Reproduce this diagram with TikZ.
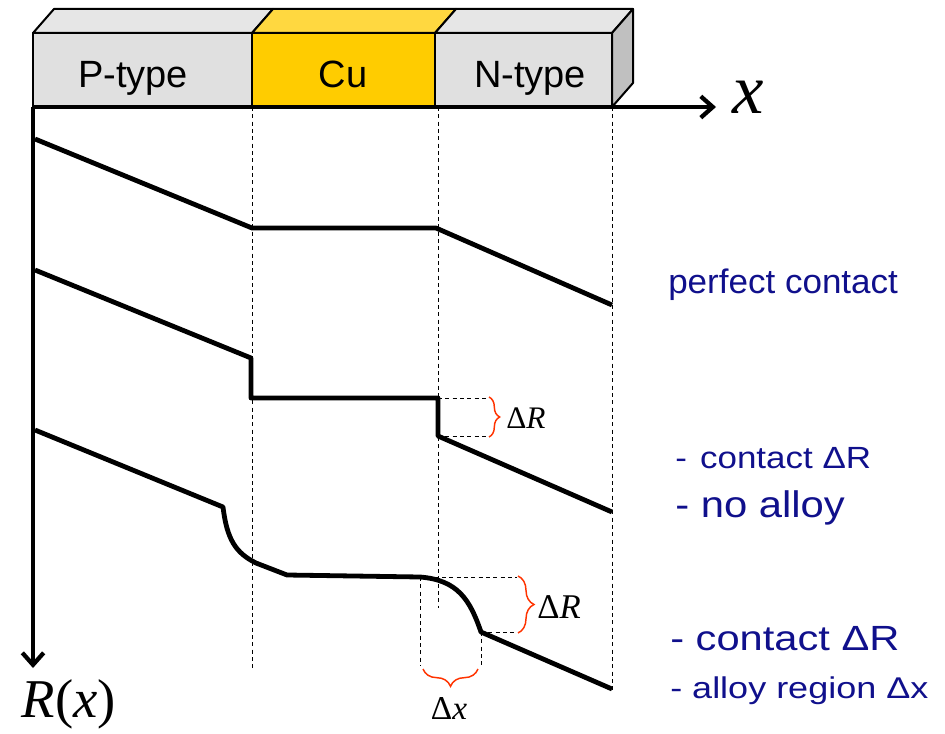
\documentclass[tikz,border=0pt]{standalone}
\usepackage{fontspec}
\setsansfont{Liberation Sans}
\newfontfamily\tnr{Liberation Serif}
\usetikzlibrary{arrows.meta,decorations.pathreplacing}
\definecolor{navy}{RGB}{16,16,140}
\definecolor{cuFront}{RGB}{255,204,0}
\definecolor{cuTop}{RGB}{255,216,64}
\definecolor{greyFront}{RGB}{224,224,224}
\definecolor{greyTop}{RGB}{230,230,230}
\definecolor{greySide}{RGB}{192,192,192}
\definecolor{braceRed}{RGB}{255,51,0}
\begin{document}
\begin{tikzpicture}[x=0.75pt,y=-0.75pt,
  face/.style={draw=black, line width=1.5pt, line join=round},
  curve/.style={line width=3.6pt, line join=round},
  guide/.style={line width=0.75pt, dash pattern=on 3pt off 2.5pt},
  axis/.style={line width=3.2pt, -{Straight Barb[length=9pt,width=16pt]}},
  rbrace/.style={draw=braceRed, line width=1.1pt, decorate, decoration={brace, amplitude=#1}},
  boxlbl/.style={font=\sffamily\fontsize{28.5pt}{30pt}\selectfont, anchor=base, inner sep=0pt},
  note/.style={text=navy, anchor=base west, inner sep=0pt},
  math/.style={inner sep=0pt}
]
\useasboundingbox (0,0) rectangle (945,734);

% 3D bar
\filldraw[face, fill=greyTop] (33,33) -- (252,33) -- (273,9) -- (54,9) -- cycle;
\filldraw[face, fill=cuTop] (252,33) -- (435,33) -- (456,9) -- (273,9) -- cycle;
\filldraw[face, fill=greyTop] (435,33) -- (612,33) -- (633,9) -- (456,9) -- cycle;
\filldraw[face, fill=greySide] (612,33) -- (633,9) -- (633,83) -- (612,107) -- cycle;
\filldraw[face, fill=greyFront] (33,33) rectangle (252,107);
\filldraw[face, fill=cuFront] (252,33) rectangle (435,107);
\filldraw[face, fill=greyFront] (435,33) rectangle (612,107);
\node[boxlbl] (pt) at (133,88) {P-type};
\node[boxlbl] (cu) at (343,88) {Cu};
\node[boxlbl] (nt) at (530,88) {N-type};

% guides
\draw[guide] (252,107) -- (252,668);
\draw[guide] (438,107) -- (438,608);
\draw[guide] (612,107) -- (612,690);

% axes
\coordinate (O) at (33,107);
\coordinate (xend) at (716,107);
\coordinate (yend) at (33,668);
\draw[axis] (O) -- (xend);
\draw[axis] (O) -- (yend);
\node[math, font=\tnr\fontsize{53pt}{53pt}\selectfont] (xl) at (748,97) {\textit{x}};
\node[math, font=\tnr\fontsize{41pt}{41pt}\selectfont] (rl) at (69,704) {\textit{R}(\textit{x})};

% curve 1: perfect contact
\draw[curve] (35,139) -- (252,228) -- (436,228) -- (612,305);

% curve 2: contact resistance, no alloy
\coordinate (a1) at (251,398);
\coordinate (a2) at (438,398);
\coordinate (b2) at (438,436);
\draw[curve] (35,270) -- (251,358) -- (a1) -- (a2) -- (b2) -- (612,512);
\draw[guide] (a2) -- (488,398);
\draw[guide] (b2) -- (488,436);
\draw[rbrace=8pt] (489,397) -- (489,437);
\node[math, font=\tnr\fontsize{23.5pt}{23.5pt}\selectfont, anchor=base west] (dr1) at (506,428) {Δ\textit{R}};

% curve 3: contact resistance with alloy region
\coordinate (c1) at (420,577);
\coordinate (c2) at (481,632);
\draw[curve] (35,430) -- (223,507) .. controls (227,540) and (236,553) .. (256,563) -- (287,575) -- (c1)
  .. controls (458,580) and (470,600) .. (c2) -- (612,689);
\draw[guide] (c1) -- (517,577);
\draw[guide] (c2) -- (517,632);
\draw[guide] (c1) -- (420,666);
\draw[guide] (c2) -- (481,666);
\draw[rbrace=12pt] (518,576) -- (518,633);
\draw[rbrace=13pt] (478,669) -- (423,669);
\node[math, font=\tnr\fontsize{26pt}{26pt}\selectfont, anchor=base west] (dr2) at (537,618) {Δ\textit{R}};
\node[math, font=\tnr\fontsize{25pt}{25pt}\selectfont, anchor=base] (dx) at (449,719) {Δ\textit{x}};

% notes
\node[note, font=\sffamily\fontsize{25.5pt}{28pt}\selectfont] (n1) at (668,293) {\scalebox{1.03}[1]{perfect contact}};
\node[note, font=\sffamily\fontsize{23pt}{24pt}\selectfont] (n2) at (675,468) {\scalebox{1.14}[1]{-\hspace{0.1em} contact ΔR}};
\node[note, font=\sffamily\fontsize{27.75pt}{30pt}\selectfont] (n3) at (675,517) {\scalebox{1.13}[1]{- no alloy}};
\node[note, font=\sffamily\fontsize{26.25pt}{28pt}\selectfont] (n4) at (670,650) {\scalebox{1.19}[1]{- contact ΔR}};
\node[note, font=\sffamily\fontsize{22.5pt}{24pt}\selectfont] (n5) at (670,698) {\scalebox{1.2}[1]{- alloy region Δx}};
\end{tikzpicture}
\end{document}
